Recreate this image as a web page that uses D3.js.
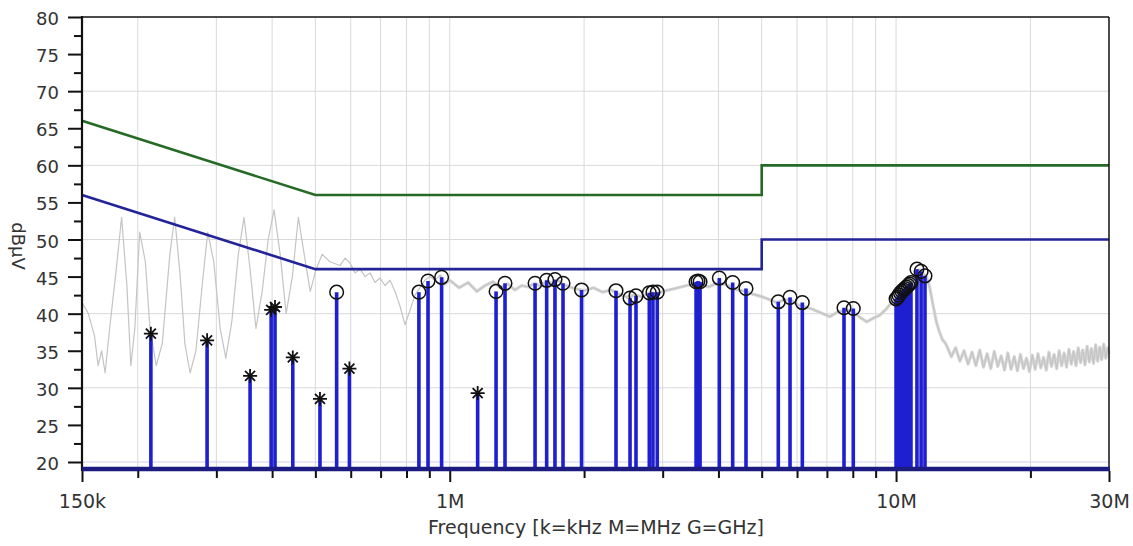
<!DOCTYPE html>
<html>
<head>
<meta charset="utf-8">
<script src="https://cdn.jsdelivr.net/npm/d3@7"></script>
<style>
  html, body { margin: 0; padding: 0; background: #fff; }
  svg { display: block; }
  text { font-family: "DejaVu Sans", Verdana, sans-serif; fill: #333; }
</style>
</head>
<body>
<svg id="chart" width="1133" height="546"></svg>
<script>
// ---------- DATA ----------
// Limit lines (frequency in MHz, level in dBµV)
const qpLimitFreq = [0.15, 0.5, 5, 5, 30];
const qpLimitLevel = [66, 56, 56, 60, 60];
const avLimitFreq = [0.15, 0.5, 5, 5, 30];
const avLimitLevel = [56, 46, 46, 50, 50];

// Measured spectrum trace (MHz, dBµV)
const traceFreq = [
  0.150, 0.155, 0.160, 0.163, 0.166, 0.169, 0.173, 0.179, 0.184, 0.189, 0.193, 0.197,
  0.202, 0.208, 0.213, 0.220, 0.227, 0.236, 0.242, 0.249, 0.255, 0.262, 0.270, 0.279,
  0.287, 0.296, 0.306, 0.315, 0.325, 0.336, 0.346, 0.357, 0.368, 0.380, 0.392, 0.404,
  0.417, 0.430, 0.444, 0.458, 0.472, 0.487, 0.502, 0.518, 0.539,
  0.568, 0.583, 0.598, 0.614, 0.630, 0.646, 0.663, 0.680, 0.698, 0.716, 0.735, 0.754,
  0.774, 0.794, 0.815, 0.836, 0.858, 0.880, 0.903, 0.927, 0.951, 0.975, 1.00,
  1.05, 1.10, 1.15, 1.20, 1.25, 1.30, 1.35, 1.40, 1.45, 1.50, 1.55, 1.60, 1.65, 1.70,
  1.75, 1.80, 1.90, 2.00, 2.10, 2.20, 2.30, 2.40, 2.50, 2.60, 2.70, 2.80, 2.90, 3.00,
  3.20, 3.40, 3.60, 3.80, 4.00, 4.20, 4.40, 4.60, 4.80, 5.00,
  5.2, 5.4, 5.6, 5.8, 6.0, 6.2, 6.5, 6.8, 7.1, 7.4, 7.7, 8.0, 8.3, 8.6, 8.9, 9.2, 9.5,
  9.8, 10.0, 10.3, 10.6, 10.9, 11.1, 11.3, 11.5, 11.7, 11.9, 12.1, 12.3, 12.5, 12.7, 12.9,
  13.0, 13.3, 13.6, 13.9, 14.2, 14.5, 14.8, 15.1, 15.4, 15.7, 16.0, 16.3, 16.6, 16.9,
  17.2, 17.5, 17.8, 18.1, 18.4, 18.7, 19.0, 19.3, 19.6, 19.9, 20.2, 20.5, 20.8, 21.1,
  21.4, 21.7, 22.0, 22.3, 22.6, 22.9, 23.2, 23.5, 23.8, 24.1, 24.4, 24.7, 25.0, 25.3,
  25.6, 25.9, 26.2, 26.5, 26.8, 27.1, 27.4, 27.7, 28.0, 28.3, 28.6, 28.9, 29.2, 29.5,
  29.8, 30.0
];
const traceLevel = [
  41.5, 40.0, 37.0, 33.0, 35.0, 32.0, 38.0, 46.0, 53.0, 44.0, 33.0, 38.0,
  51.0, 47.0, 38.0, 33.0, 36.0, 48.0, 53.0, 45.0, 36.0, 32.0, 35.0, 44.0,
  51.0, 47.0, 38.0, 34.0, 39.0, 48.0, 53.0, 46.0, 38.0, 43.0, 50.0, 54.0,
  48.0, 40.0, 45.0, 53.0, 48.0, 43.0, 46.0, 48.0, 47.0,
  46.5, 47.5, 46.8, 45.5, 46.0, 45.0, 45.5, 44.2, 44.8, 43.8, 44.5, 43.0,
  41.0, 38.5, 40.5, 42.5, 43.5, 44.5, 45.0, 44.5, 45.2, 44.0, 44.5,
  43.5, 44.2, 43.0, 43.8, 44.3, 43.5, 44.0, 43.2, 43.8, 43.6, 44.1, 43.7, 44.4, 44.0,
  44.5, 43.9, 43.4, 43.1, 43.5, 42.9, 43.2, 42.6, 42.2, 42.5, 42.3, 42.8, 42.7, 43.0,
  43.4, 43.8, 44.1, 43.6, 44.2, 43.8, 43.2, 43.0, 42.6, 42.3,
  41.9, 41.5, 41.8, 41.9, 41.2, 41.0, 40.6, 40.1, 39.6, 40.2, 40.5, 40.3, 39.5,
  38.9, 39.4, 39.8, 40.6, 41.6, 42.0, 43.0, 43.7, 44.5, 45.8, 45.9, 45.4, 45.0, 43.5,
  41.2, 39.0, 37.6, 36.5, 36.0,
  35.6, 34.2, 35.4, 33.6, 35.0, 33.2, 34.8, 33.0, 35.1, 32.8, 34.6, 32.6, 34.9, 32.9,
  34.3, 32.4, 34.7, 32.5, 34.2, 32.3, 34.5, 32.6, 34.0, 32.2, 34.4, 32.5, 34.6, 32.7,
  34.1, 32.4, 34.8, 32.9, 34.5, 32.6, 35.0, 33.0, 34.7, 32.8, 35.2, 33.2, 34.9, 33.0,
  35.4, 33.4, 35.1, 33.1, 35.6, 33.5, 35.3, 33.3, 35.8, 33.6, 35.5, 33.8, 35.9, 34.0,
  35.4, 34.6
];

// Peak detector results (MHz, dBµV, marker type)
const peakFreq = [
  0.214, 0.286, 0.357, 0.398, 0.406, 0.445, 0.512, 0.558, 0.596, 0.853, 0.894, 0.959,
  1.155, 1.270, 1.330, 1.553, 1.649, 1.721, 1.794, 1.974, 2.358, 2.535, 2.614, 2.800,
  2.853, 2.917, 3.564, 3.600, 3.638, 4.018, 4.305, 4.611, 5.447, 5.787, 6.166, 7.645, 8.020,
  10.00, 10.08, 10.15, 10.23, 10.31, 10.39, 10.47, 10.55, 10.64, 10.72, 10.80,
  11.14, 11.38, 11.61
];
const peakLevel = [
  37.3, 36.4, 31.6, 40.5, 40.9, 34.1, 28.5, 42.9, 32.6, 42.9, 44.4, 44.9,
  29.3, 43.0, 44.1, 44.1, 44.5, 44.6, 44.1, 43.2, 43.1, 42.1, 42.4, 42.8,
  42.9, 42.9, 44.3, 44.4, 44.3, 44.8, 44.2, 43.4, 41.6, 42.2, 41.5, 40.8, 40.7,
  42.0, 42.2, 42.5, 42.8, 43.0, 43.2, 43.4, 43.6, 43.8, 44.0, 44.2,
  46.0, 45.7, 45.1
];
const peakMarker = [
  "star", "star", "star", "star", "star", "star", "star", "circle", "star", "circle", "circle", "circle",
  "star", "circle", "circle", "circle", "circle", "circle", "circle", "circle", "circle", "circle", "circle", "circle",
  "circle", "circle", "circle", "circle", "circle", "circle", "circle", "circle", "circle", "circle", "circle", "circle", "circle",
  "circle", "circle", "circle", "circle", "circle", "circle", "circle", "circle", "circle", "circle", "circle",
  "circle", "circle", "circle"
];

// Axis ticks
const yMajorTicks = [20, 25, 30, 35, 40, 45, 50, 55, 60, 65, 70, 75, 80];
const yMinorTicks = [22.5, 27.5, 32.5, 37.5, 42.5, 47.5, 52.5, 57.5, 62.5, 67.5, 72.5, 77.5];
const yGridLines = [30, 40, 50, 60, 70];
const xLabelTicks = [0.15, 1, 10, 30];
const xLabelText = ["150k", "1M", "10M", "30M"];
const xMinorTicks = [0.2, 0.3, 0.4, 0.5, 0.6, 0.7, 0.8, 0.9, 2, 3, 4, 5, 6, 7, 8, 9, 20];
const xGridLines = [0.2, 0.3, 0.4, 0.5, 0.6, 0.7, 0.8, 0.9, 1, 2, 3, 4, 5, 6, 7, 8, 9, 10, 20];
const xTitle = "Frequency [k=kHz M=MHz G=GHz]";
const yTitle = "dBµV";

// ---------- LAYOUT ----------
const L = 82, R = 1109, T = 17, B20 = 462, BASE = 469;
const svg = d3.select("#chart");
const x = d3.scaleLog().domain([0.15, 30]).range([L, R]);
const y = d3.scaleLinear().domain([20, 80]).range([B20, T]);
const baseLevel = y.invert(BASE);

// Grid
const grid = svg.append("g");
grid.selectAll("line.gx").data(xGridLines).join("line")
  .attr("x1", d => x(d)).attr("x2", d => x(d))
  .attr("y1", T).attr("y2", BASE)
  .attr("stroke", "#d9d9d9").attr("stroke-width", 1);
grid.selectAll("line.gy").data(yGridLines).join("line")
  .attr("x1", L).attr("x2", R)
  .attr("y1", d => y(d)).attr("y2", d => y(d))
  .attr("stroke", "#d9d9d9").attr("stroke-width", 1);
grid.append("line").attr("x1", L).attr("x2", R).attr("y1", y(20)).attr("y2", y(20))
  .attr("stroke", "#cfcfee").attr("stroke-width", 1);

// Trace
const trace = traceFreq.map((f, i) => [f, traceLevel[i]]);
const traceLine = d3.line().x(d => x(d[0])).y(d => y(d[1]));
svg.append("path")
  .datum(trace.filter(d => d[0] >= 0.95))
  .attr("fill", "none")
  .attr("stroke", "#d6d6d6")
  .attr("stroke-width", 3.2)
  .attr("stroke-linejoin", "round")
  .attr("d", traceLine);
svg.append("path")
  .datum(trace)
  .attr("fill", "none")
  .attr("stroke", "#c4c4c4")
  .attr("stroke-width", 1.2)
  .attr("stroke-linejoin", "round")
  .attr("d", traceLine);

// Limit lines
const limLine = d3.line().x(d => x(d[0])).y(d => y(d[1]));
svg.append("path")
  .datum(qpLimitFreq.map((f, i) => [f, qpLimitLevel[i]]))
  .attr("fill", "none").attr("stroke", "#256a25").attr("stroke-width", 2.6)
  .attr("d", limLine);
svg.append("path")
  .datum(avLimitFreq.map((f, i) => [f, avLimitLevel[i]]))
  .attr("fill", "none").attr("stroke", "#23239a").attr("stroke-width", 2.6)
  .attr("d", limLine);

// Stems
const peaks = peakFreq.map((f, i) => ({ f, v: peakLevel[i], m: peakMarker[i] }));
svg.append("g").selectAll("line").data(peaks).join("line")
  .attr("x1", d => x(d.f)).attr("x2", d => x(d.f))
  .attr("y1", y(baseLevel)).attr("y2", d => y(d.v))
  .attr("stroke", "#1f1fd2").attr("stroke-width", 3.6);

// Markers
const mk = svg.append("g");
mk.selectAll("circle").data(peaks.filter(d => d.m === "circle")).join("circle")
  .attr("cx", d => x(d.f)).attr("cy", d => y(d.v)).attr("r", 6.8)
  .attr("fill", "none").attr("stroke", "#111").attr("stroke-width", 1.5);
const s = 7, dg = 5;
mk.selectAll("path.star").data(peaks.filter(d => d.m === "star")).join("path")
  .attr("class", "star")
  .attr("transform", d => `translate(${x(d.f)},${y(d.v)})`)
  .attr("d", `M${-s},0H${s}M0,${-s}V${s}M${-dg},${-dg}L${dg},${dg}M${-dg},${dg}L${dg},${-dg}`)
  .attr("stroke", "#111").attr("stroke-width", 1.8).attr("fill", "none");

// Frame
svg.append("line").attr("x1", L).attr("x2", R).attr("y1", T).attr("y2", T)
  .attr("stroke", "#111").attr("stroke-width", 1.5);
svg.append("line").attr("x1", R).attr("x2", R).attr("y1", T).attr("y2", BASE)
  .attr("stroke", "#111").attr("stroke-width", 1.5);
svg.append("line").attr("x1", L).attr("x2", L).attr("y1", T - 1).attr("y2", BASE + 2)
  .attr("stroke", "#111").attr("stroke-width", 2.2);
svg.append("line").attr("x1", L).attr("x2", R + 1).attr("y1", BASE).attr("y2", BASE)
  .attr("stroke", "#1c1c80").attr("stroke-width", 4.5);

// Y axis
const yMaj = svg.append("g").attr("transform", `translate(${L},0)`)
  .call(d3.axisLeft(y).tickValues(yMajorTicks).tickSize(14).tickFormat(d3.format("d")));
const yMin = svg.append("g").attr("transform", `translate(${L},0)`)
  .call(d3.axisLeft(y).tickValues(yMinorTicks).tickSize(8).tickFormat(""));
[yMaj, yMin].forEach(g => {
  g.select(".domain").remove();
  g.selectAll(".tick line").attr("stroke", "#111").attr("stroke-width", 2);
});
yMaj.selectAll(".tick text")
  .attr("x", -23).attr("dy", 7.5)
  .style("font-size", "18px").style("font-family", "DejaVu Sans, sans-serif")
  .attr("fill", "#333");

// X axis
const xMaj = svg.append("g").attr("transform", `translate(0,${BASE + 2})`)
  .call(d3.axisBottom(x).tickValues(xLabelTicks).tickSize(11)
    .tickFormat((d, i) => xLabelText[i]));
const xMin = svg.append("g").attr("transform", `translate(0,${BASE + 2})`)
  .call(d3.axisBottom(x).tickValues(xMinorTicks).tickSize(7).tickFormat(""));
[xMaj, xMin].forEach(g => {
  g.select(".domain").remove();
  g.selectAll(".tick line").attr("stroke", "#111").attr("stroke-width", 2);
});
xMaj.selectAll(".tick text")
  .attr("y", 37).attr("dy", 0)
  .style("font-size", "19px").style("font-family", "DejaVu Sans, sans-serif")
  .attr("fill", "#333");

// Titles
svg.append("text").attr("x", 596).attr("y", 534).attr("text-anchor", "middle")
  .style("font-size", "19px").text(xTitle);
svg.append("text").attr("transform", "translate(12,246) rotate(90)")
  .attr("text-anchor", "middle").style("font-size", "18px").text(yTitle);
</script>
</body>
</html>
